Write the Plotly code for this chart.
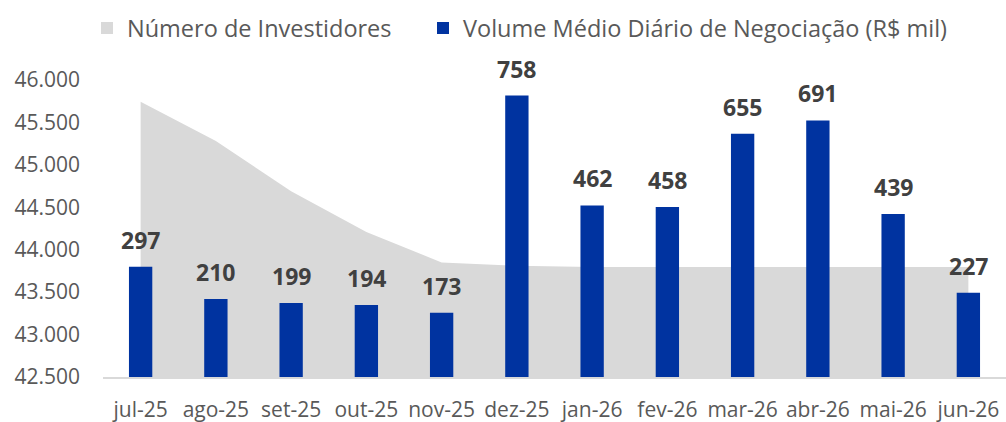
import plotly.graph_objects as go

categories = ["jul-25", "ago-25", "set-25", "out-25", "nov-25", "dez-25",
              "jan-26", "fev-26", "mar-26", "abr-26", "mai-26", "jun-26"]
investors = [45745, 45280, 44690, 44210, 43850, 43810,
             43795, 43795, 43795, 43795, 43795, 43795]
volume = [297, 210, 199, 194, 173, 758, 462, 458, 655, 691, 439, 227]
y_ticks = [42500, 43000, 43500, 44000, 44500, 45000, 45500, 46000]
y_ticktext = ["42.500", "43.000", "43.500", "44.000", "44.500", "45.000", "45.500", "46.000"]

GRAY = "#D9D9D9"
BLUE = "#0033A0"
FONT = "Open Sans"

fig = go.Figure()
fig.add_trace(go.Scatter(
    x=categories, y=investors, mode="lines", line=dict(width=0, color=GRAY),
    fill="tozeroy", fillcolor=GRAY, showlegend=False, hoverinfo="skip", yaxis="y"))
fig.add_trace(go.Bar(
    x=categories, y=volume, marker=dict(color=BLUE, line=dict(width=0)), width=0.31,
    showlegend=False, yaxis="y2"))
# legend entries
fig.add_trace(go.Scatter(x=[None], y=[None], mode="markers", name="Número de Investidores",
                         marker=dict(symbol="square", size=12, color=GRAY), legend="legend"))
fig.add_trace(go.Scatter(x=[None], y=[None], mode="markers",
                         name="Volume Médio Diário de Negociação (R$ mil)",
                         marker=dict(symbol="square", size=12, color=BLUE), legend="legend2"))

# value labels above bars
for c, v in zip(categories, volume):
    fig.add_annotation(x=c, y=v, xref="x", yref="y2", text=str(v), showarrow=False,
                       yanchor="bottom", yshift=9,
                       font=dict(family=FONT, size=23, color="#404040", weight="bold"))

legend_common = dict(orientation="h", y=0.985, xref="container", yref="container",
                     xanchor="left", yanchor="top",
                     font=dict(size=23.5, color="#595959"), bgcolor="rgba(0,0,0,0)")

fig.update_layout(
    width=1006, height=422, margin=dict(l=103, r=0, t=80, b=45, autoexpand=False),
    paper_bgcolor="white", plot_bgcolor="white",
    font=dict(family=FONT, color="#595959"),
    showlegend=True,
    legend=dict(x=87 / 1006, **legend_common),
    legend2=dict(x=423 / 1006, **legend_common),
    xaxis=dict(type="category", range=[-0.5, 11.5], showgrid=False, showline=True,
               linecolor=GRAY, linewidth=1.5, ticks="", tickfont=dict(size=21),
               ticklabelstandoff=13),
    yaxis=dict(range=[42500, 46000], tickvals=y_ticks, ticktext=y_ticktext,
               showgrid=False, zeroline=False, showline=False, ticks="",
               tickfont=dict(size=21), ticklabelstandoff=22),
    yaxis2=dict(range=[0, 800], overlaying="y", visible=False, showgrid=False),
)
fig.write_html("out.html")
